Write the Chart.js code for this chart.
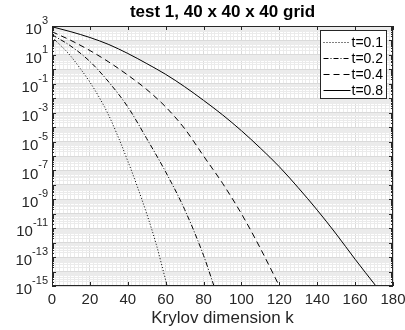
<!DOCTYPE html>
<html>
<head>
<meta charset="utf-8">
<script src="https://cdn.jsdelivr.net/npm/chart.js@4"></script>
<style>
  html, body { margin: 0; padding: 0; background: #ffffff; }
  #wrap { width: 405px; height: 330px; }
</style>
</head>
<body>
<div id="wrap"><canvas id="krylovChart" width="405" height="330"></canvas></div>
<script>
// Values (error vs Krylov dimension k)
var kT01 = [0, 5, 10, 15, 20, 25, 30, 35, 40, 45, 50, 55, 60, 60.8];
var errT01 = [1.6e2, 4.0e1, 7.9, 1.1, 1.3e-1, 1.1e-2, 6.3e-4, 2.0e-5, 4.5e-7, 7.9e-9, 1.0e-10, 7.9e-13, 2.5e-15, 1.0e-15];

var kT02 = [0, 10, 20, 30, 40, 50, 60, 70, 80, 85.5];
var errT02 = [2.5e2, 4.0e1, 3.5, 1.3e-1, 2.5e-3, 1.6e-5, 7.9e-8, 2.0e-10, 1.3e-13, 1.0e-15];

var kT04 = [0, 10, 20, 30, 40, 50, 60, 70, 80, 90, 100, 110, 120];
var errT04 = [4.0e2, 1.0e2, 2.0e1, 3.2, 4.0e-1, 4.0e-2, 2.5e-3, 7.9e-5, 1.0e-6, 1.3e-8, 1.0e-10, 4.0e-13, 1.0e-15];

var kT08 = [0, 10, 20, 30, 40, 50, 60, 70, 80, 90, 100, 110, 120, 130, 140, 150, 160, 171];
var errT08 = [8.9e2, 4.0e2, 1.6e2, 5.2e1, 1.26e1, 2.5, 4.5e-1, 6.3e-2, 7.1e-3, 7.1e-4, 5.6e-5, 3.5e-6, 1.8e-7, 6.3e-9, 1.8e-10, 4.0e-12, 7.1e-14, 1.0e-15];

var seriesLabels = ['t=0.1', 't=0.2', 't=0.4', 't=0.8'];
var seriesDash = [[1, 2], [5, 2, 1, 2], [6, 4], []];

var xTickLabels = ['0', '20', '40', '60', '80', '100', '120', '140', '160', '180'];
var yTickExps = ['3', '1', '-1', '-3', '-5', '-7', '-9', '-11', '-13', '-15'];

var chartTitle = 'test 1, 40 x 40 x 40 grid';
var xTitle = 'Krylov dimension k';

var FONT = '"Liberation Sans", Arial, Helvetica, sans-serif';
var AXIS_COLOR = '#262626';

function toPoints(xs, ys) {
    return xs.map(function (x, i) { return { x: x, y: ys[i] }; });
}

function makeDataset(index, xs, ys) {
    return {
        label: seriesLabels[index],
        data: toPoints(xs, ys),
        borderColor: '#000000',
        borderWidth: 1,
        borderDash: seriesDash[index],
        pointRadius: 0,
        fill: false,
        cubicInterpolationMode: 'monotone'
    };
}

// y labels as 10^n with a small raised exponent, MATLAB style
var yLabelPlugin = {
    id: 'yLabels',
    afterDraw: function (chart) {
        var ctx = chart.ctx;
        var ys = chart.scales.y;
        var right = chart.chartArea.left - 4;
        ctx.save();
        ctx.fillStyle = AXIS_COLOR;
        ctx.textBaseline = 'middle';
        yTickExps.forEach(function (e) {
            var y = ys.getPixelForValue(Math.pow(10, parseInt(e)));
            ctx.font = '11px ' + FONT;
            var ew = ctx.measureText(e).width;
            ctx.textAlign = 'left';
            ctx.fillText(e, right - ew, y - 5);
            ctx.font = '15px ' + FONT;
            ctx.textAlign = 'right';
            ctx.fillText('10', right - ew, y + 4);
        });
        ctx.restore();
    }
};

// box around the axes plus inward tick marks
var boxPlugin = {
    id: 'axesBox',
    afterDraw: function (chart) {
        var ctx = chart.ctx;
        var a = chart.chartArea;
        var xs = chart.scales.x, ys = chart.scales.y;
        ctx.save();
        ctx.strokeStyle = AXIS_COLOR;
        ctx.lineWidth = 1;
        ctx.beginPath();
        ys.ticks.forEach(function (t) {
            var y = Math.round(ys.getPixelForValue(t.value)) + 0.5;
            var len = t.major ? 4 : 2;
            ctx.moveTo(a.left, y); ctx.lineTo(a.left + len, y);
            ctx.moveTo(a.right, y); ctx.lineTo(a.right - len, y);
        });
        xs.ticks.forEach(function (t) {
            if (t.value % 20 !== 0) return;
            var x = Math.round(xs.getPixelForValue(t.value)) + 0.5;
            ctx.moveTo(x, a.bottom); ctx.lineTo(x, a.bottom - 4);
            ctx.moveTo(x, a.top); ctx.lineTo(x, a.top + 4);
        });
        ctx.stroke();
        ctx.strokeRect(Math.round(a.left) + 0.5, Math.round(a.top) + 0.5,
            Math.round(a.right - a.left) - 1, Math.round(a.bottom - a.top) - 1);
        ctx.restore();
    }
};

// legend box in the upper right corner of the axes
var legendPlugin = {
    id: 'boxLegend',
    afterDraw: function (chart) {
        var ctx = chart.ctx;
        var a = chart.chartArea;
        var boxW = 66, rowH = 16;
        var bx = Math.round(a.right - 7 - boxW) + 0.5;
        var by = Math.round(a.top + 4) + 0.5;
        var n = chart.data.datasets.length;
        var boxH = n * rowH + 4;
        ctx.save();
        ctx.fillStyle = '#ffffff';
        ctx.fillRect(bx, by, boxW, boxH);
        ctx.strokeStyle = AXIS_COLOR;
        ctx.lineWidth = 1;
        ctx.strokeRect(bx, by, boxW, boxH);
        ctx.font = '14px ' + FONT;
        ctx.textBaseline = 'middle';
        ctx.textAlign = 'left';
        chart.data.datasets.forEach(function (ds, i) {
            var y = Math.round(by + 11 + i * rowH) + 0.5;
            ctx.strokeStyle = '#000000';
            ctx.setLineDash(ds.borderDash);
            ctx.beginPath();
            ctx.moveTo(bx + 3, y);
            ctx.lineTo(bx + 30, y);
            ctx.stroke();
            ctx.setLineDash([]);
            ctx.fillStyle = '#000000';
            ctx.fillText(ds.label, bx + 31, y + 1);
        });
        ctx.restore();
    }
};

var ctx = document.getElementById('krylovChart').getContext('2d');
new Chart(ctx, {
    type: 'line',
    data: {
        datasets: [
            makeDataset(0, kT01, errT01),
            makeDataset(1, kT02, errT02),
            makeDataset(2, kT04, errT04),
            makeDataset(3, kT08, errT08)
        ]
    },
    options: {
        responsive: false,
        animation: false,
        layout: { padding: { left: 52, right: 12, top: 0, bottom: 0 } },
        plugins: {
            legend: { display: false },
            tooltip: { enabled: false },
            title: {
                display: true,
                text: chartTitle,
                color: '#000000',
                font: { family: FONT, size: 17, weight: 'bold' },
                padding: { top: 2, bottom: 3.6 }
            }
        },
        scales: {
            x: {
                type: 'linear',
                min: 0,
                max: 180,
                afterBuildTicks: function (scale) {
                    var ticks = [];
                    for (var v = 0; v <= 180; v += 2) ticks.push({ value: v, major: v % 20 === 0 });
                    scale.ticks = ticks;
                },
                // fixed axis band so the plot box ends where the reference does
                afterFit: function (scale) {
                    scale.height = 44;
                    scale.paddingRight = 12;
                },
                ticks: {
                    autoSkip: false,
                    maxRotation: 0,
                    padding: 5,
                    color: AXIS_COLOR,
                    font: { family: FONT, size: 15 },
                    callback: function (v) {
                        return v % 20 === 0 ? xTickLabels[v / 20] : '';
                    }
                },
                grid: {
                    drawTicks: false,
                    color: function (c) { return c.tick && c.tick.major ? '#dadada' : '#ebebeb'; }
                },
                border: { display: false },
                title: {
                    display: true,
                    text: xTitle,
                    color: AXIS_COLOR,
                    font: { family: FONT, size: 17 },
                    padding: { top: 0, bottom: 1 }
                }
            },
            y: {
                type: 'logarithmic',
                min: 1e-15,
                max: 1e3,
                afterBuildTicks: function (scale) {
                    var ticks = [];
                    for (var e = -15; e <= 3; e++) {
                        for (var m = 1; m < 10; m++) {
                            if (e === 3 && m > 1) break;
                            ticks.push({ value: m * Math.pow(10, e), major: m === 1 });
                        }
                    }
                    scale.ticks = ticks;
                },
                ticks: { display: false },
                grid: {
                    drawTicks: false,
                    color: function (c) { return c.tick && c.tick.major ? '#dadada' : '#ebebeb'; }
                },
                border: { display: false }
            }
        }
    },
    plugins: [yLabelPlugin, boxPlugin, legendPlugin]
});
</script>
</body>
</html>
